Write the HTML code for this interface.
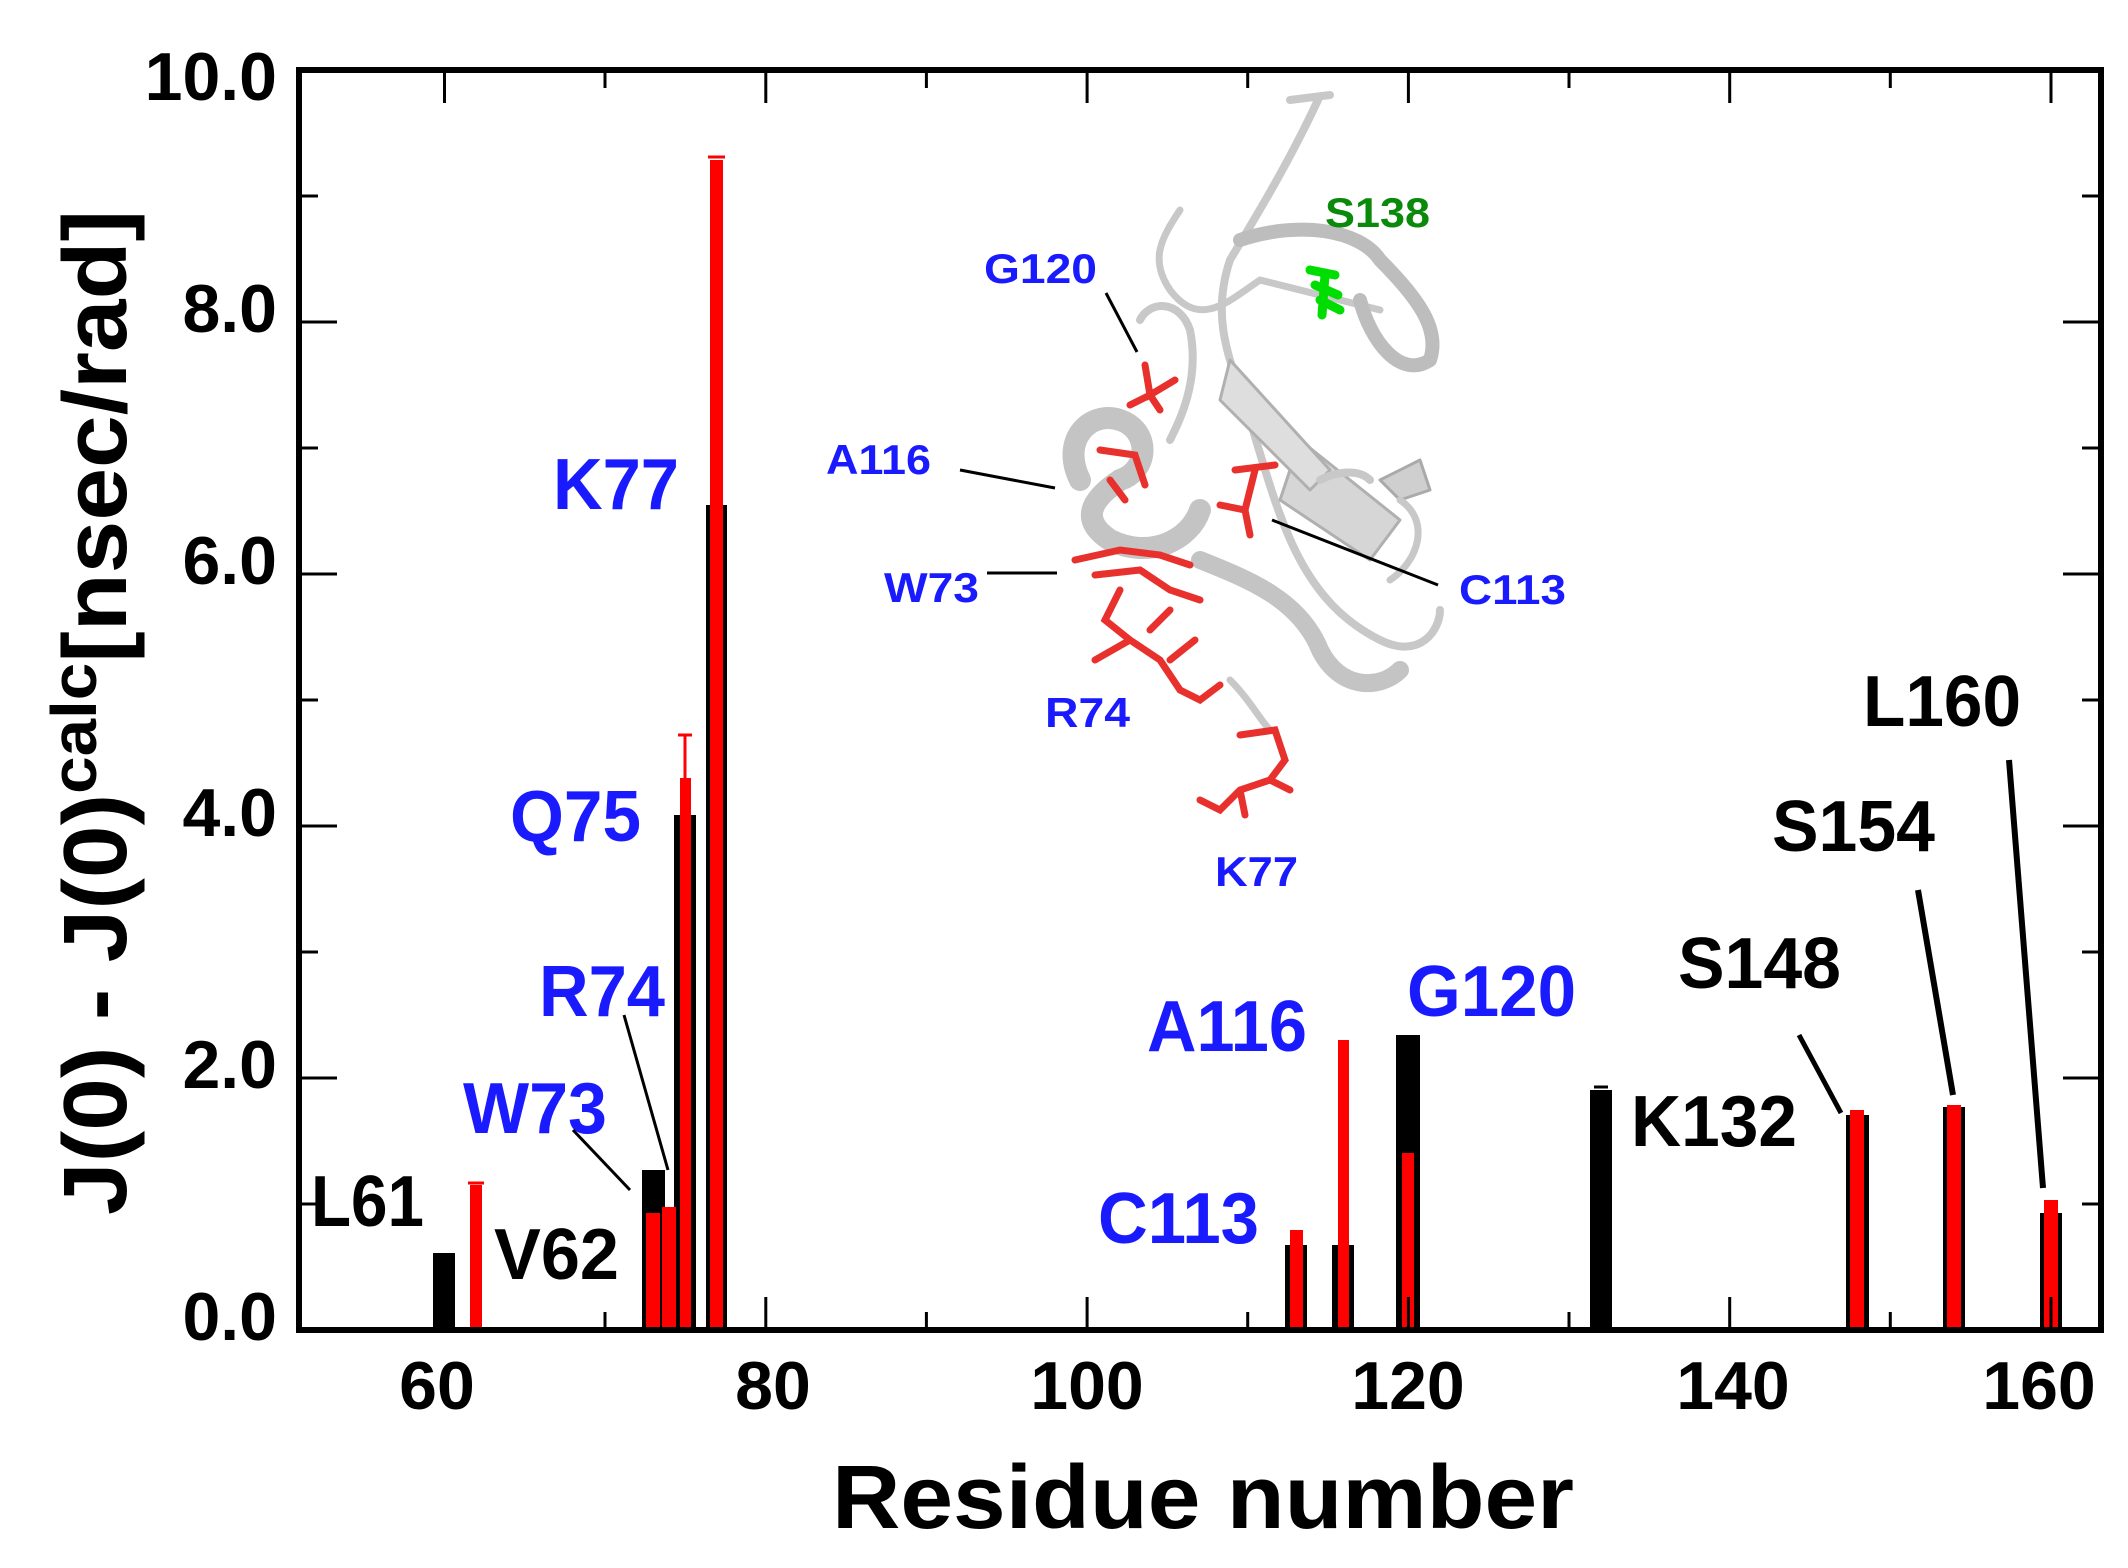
<!DOCTYPE html>
<html><head><meta charset="utf-8"><style>
html,body{margin:0;padding:0;background:#fff}
svg{display:block}
text{font-family:"Liberation Sans",Arial,sans-serif;font-weight:bold}
</style></head><body>
<svg width="2128" height="1568" viewBox="0 0 2128 1568" xmlns="http://www.w3.org/2000/svg">
<!-- protein inset (approximate) -->
<g fill="none" stroke-linecap="round" stroke-linejoin="round">
<path d="M1290 100 L1330 95 M1318 100 C1290 160 1260 210 1230 260 C1210 320 1230 360 1250 420 C1280 520 1300 600 1380 640 C1420 660 1440 630 1440 610" stroke="#c8c8c8" stroke-width="8"/>
<path d="M1180 210 C1160 240 1150 260 1170 290 C1200 330 1230 300 1260 280 C1300 290 1340 300 1380 310" stroke="#c8c8c8" stroke-width="7"/>
<path d="M1240 240 C1300 220 1360 230 1380 260 C1420 300 1440 330 1430 360 C1400 380 1370 340 1360 300" stroke="#bdbdbd" stroke-width="14"/>
<path d="M1300 440 L1400 520 L1370 560 L1280 500 Z" fill="#d6d6d6" stroke="#b0b0b0" stroke-width="3"/>
<path d="M1230 360 L1330 470 L1310 490 L1220 400 Z" fill="#dedede" stroke="#b0b0b0" stroke-width="3"/>
<path d="M1320 480 C1340 470 1360 470 1370 480" stroke="#c8c8c8" stroke-width="8"/>
<path d="M1080 480 C1060 440 1090 410 1120 420 C1150 430 1150 470 1120 480 C1090 500 1080 520 1110 540 C1150 560 1190 540 1200 510" stroke="#c4c4c4" stroke-width="22"/>
<path d="M1140 320 C1150 300 1180 300 1190 330 C1200 380 1180 420 1170 440" stroke="#c8c8c8" stroke-width="8"/>
<path d="M1200 560 C1250 580 1300 600 1320 650 C1340 690 1380 690 1400 670" stroke="#c4c4c4" stroke-width="18"/>
<path d="M1380 480 L1420 460 L1430 490 L1400 500 Z" fill="#cfcfcf" stroke="#aaa" stroke-width="3"/>
<path d="M1400 500 C1430 520 1420 560 1390 580" stroke="#c8c8c8" stroke-width="7"/>
<path d="M1230 680 C1250 700 1260 720 1270 730" stroke="#c8c8c8" stroke-width="7"/>
</g>
<g stroke="#00dd00" stroke-width="9" stroke-linecap="round">
<path d="M1310 270 L1335 275 M1315 285 L1338 295 M1320 300 L1340 310 M1325 275 L1322 315"/>
</g>
<g stroke="#e8302c" stroke-width="7" stroke-linecap="round" fill="none">
<path d="M1145 365 L1150 395 L1175 380 M1150 395 L1130 405 M1150 395 L1160 410"/>
<path d="M1100 450 L1135 455 L1145 485 M1110 480 L1125 500"/>
<path d="M1235 470 L1275 465 M1255 470 L1245 510 L1220 505 M1245 510 L1250 535"/>
<path d="M1075 560 L1120 550 L1160 555 L1190 565 M1095 575 L1140 570 L1170 590 L1200 600"/>
<path d="M1120 590 L1105 620 L1130 640 L1095 660 M1130 640 L1160 660 L1180 690 L1200 700 L1220 685"/>
<path d="M1150 630 L1170 610 M1170 660 L1195 640"/>
<path d="M1240 735 L1275 730 L1285 760 L1270 780 L1240 790 L1220 810 L1200 800 M1270 780 L1290 790 M1240 790 L1245 815"/>
</g>
<!-- inset labels -->
<g font-size="42" fill="#1a1aff">
<text x="984" y="283" textLength="113" lengthAdjust="spacingAndGlyphs">G120</text>
<text x="826" y="474" textLength="105" lengthAdjust="spacingAndGlyphs">A116</text>
<text x="884" y="602" textLength="95" lengthAdjust="spacingAndGlyphs">W73</text>
<text x="1045" y="727" textLength="85" lengthAdjust="spacingAndGlyphs">R74</text>
<text x="1215" y="886" textLength="83" lengthAdjust="spacingAndGlyphs">K77</text>
<text x="1459" y="604" textLength="107" lengthAdjust="spacingAndGlyphs">C113</text>
</g>
<text x="1325" y="227" font-size="42" fill="#0a8a0a" textLength="105" lengthAdjust="spacingAndGlyphs">S138</text>
<g stroke="#000" stroke-width="3">
<line x1="1106" y1="293" x2="1137" y2="352"/>
<line x1="960" y1="470" x2="1055" y2="488"/>
<line x1="987" y1="573" x2="1057" y2="573"/>
<line x1="1272" y1="520" x2="1438" y2="585"/>
</g>
<!-- bars -->
<g fill="#000">
<rect x="433" y="1253" width="22" height="77"/>
<rect x="642" y="1170" width="23" height="160"/>
<rect x="674" y="815" width="22" height="515"/>
<rect x="706" y="505" width="21" height="825"/>
<rect x="1285" y="1245" width="22" height="85"/>
<rect x="1332" y="1245" width="22" height="85"/>
<rect x="1396" y="1035" width="24" height="295"/>
<rect x="1590" y="1090" width="22" height="240"/>
<rect x="1846" y="1115" width="23" height="215"/>
<rect x="1943" y="1107" width="22" height="223"/>
<rect x="2040" y="1213" width="22" height="117"/>
</g>
<g fill="#ff0000">
<rect x="470" y="1185" width="12" height="145"/>
<rect x="646" y="1213" width="14" height="117"/>
<rect x="662" y="1207" width="14" height="123"/>
<rect x="680" y="778" width="11" height="552"/>
<rect x="710" y="160" width="13" height="1170"/>
<rect x="1290" y="1230" width="13" height="100"/>
<rect x="1338" y="1040" width="11" height="290"/>
<rect x="1402" y="1153" width="12" height="177"/>
<rect x="1850" y="1110" width="14" height="220"/>
<rect x="1947" y="1105" width="14" height="225"/>
<rect x="2044" y="1200" width="14" height="130"/>
</g>
<g stroke="#ff0000" stroke-width="3">
<line x1="468" y1="1183" x2="484" y2="1183"/>
<line x1="685" y1="735" x2="685" y2="780"/><line x1="678" y1="735" x2="692" y2="735"/>
<line x1="708" y1="157" x2="725" y2="157"/>
</g>
<line x1="1594" y1="1087" x2="1608" y2="1087" stroke="#000" stroke-width="3"/>
<!-- frame & ticks -->
<rect x="299" y="70" width="1802" height="1260" fill="none" stroke="#000" stroke-width="6"/>
<g stroke="#000" stroke-width="3">
<line x1="299" y1="1078" x2="337" y2="1078"/><line x1="299" y1="826" x2="337" y2="826"/><line x1="299" y1="574" x2="337" y2="574"/><line x1="299" y1="322" x2="337" y2="322"/>
<line x1="299" y1="1204" x2="318" y2="1204"/><line x1="299" y1="952" x2="318" y2="952"/><line x1="299" y1="700" x2="318" y2="700"/><line x1="299" y1="448" x2="318" y2="448"/><line x1="299" y1="196" x2="318" y2="196"/>
<line x1="2101" y1="1078" x2="2063" y2="1078"/><line x1="2101" y1="826" x2="2063" y2="826"/><line x1="2101" y1="574" x2="2063" y2="574"/><line x1="2101" y1="322" x2="2063" y2="322"/>
<line x1="2101" y1="1204" x2="2082" y2="1204"/><line x1="2101" y1="952" x2="2082" y2="952"/><line x1="2101" y1="700" x2="2082" y2="700"/><line x1="2101" y1="448" x2="2082" y2="448"/><line x1="2101" y1="196" x2="2082" y2="196"/>
<line x1="444.5" y1="70" x2="444.5" y2="103"/><line x1="765.8" y1="70" x2="765.8" y2="103"/><line x1="1087.1" y1="70" x2="1087.1" y2="103"/><line x1="1408.4" y1="70" x2="1408.4" y2="103"/><line x1="1729.7" y1="70" x2="1729.7" y2="103"/><line x1="2051" y1="70" x2="2051" y2="103"/>
<line x1="605" y1="70" x2="605" y2="88"/><line x1="926.4" y1="70" x2="926.4" y2="88"/><line x1="1247.7" y1="70" x2="1247.7" y2="88"/><line x1="1569" y1="70" x2="1569" y2="88"/><line x1="1890.3" y1="70" x2="1890.3" y2="88"/>
<line x1="444.5" y1="1330" x2="444.5" y2="1297"/><line x1="765.8" y1="1330" x2="765.8" y2="1297"/><line x1="1087.1" y1="1330" x2="1087.1" y2="1297"/><line x1="1408.4" y1="1330" x2="1408.4" y2="1297"/><line x1="1729.7" y1="1330" x2="1729.7" y2="1297"/><line x1="2051" y1="1330" x2="2051" y2="1297"/>
<line x1="605" y1="1330" x2="605" y2="1312"/><line x1="926.4" y1="1330" x2="926.4" y2="1312"/><line x1="1247.7" y1="1330" x2="1247.7" y2="1312"/><line x1="1569" y1="1330" x2="1569" y2="1312"/><line x1="1890.3" y1="1330" x2="1890.3" y2="1312"/>
</g>
<!-- tick labels -->
<g font-size="68" text-anchor="end" fill="#000">
<text x="277" y="1340">0.0</text><text x="277" y="1088">2.0</text><text x="277" y="836">4.0</text><text x="277" y="584">6.0</text><text x="277" y="332">8.0</text><text x="277" y="100">10.0</text>
</g>
<g font-size="68" text-anchor="middle" fill="#000">
<text x="437" y="1409">60</text><text x="773" y="1409">80</text><text x="1087" y="1409">100</text><text x="1408" y="1409">120</text><text x="1733" y="1409">140</text><text x="2039" y="1409">160</text>
</g>
<text x="832" y="1528" font-size="90" textLength="742" lengthAdjust="spacingAndGlyphs">Residue number</text>
<text transform="translate(126,1215) rotate(-90)" font-size="90" textLength="1005" lengthAdjust="spacingAndGlyphs">J(0) - J(0)<tspan font-size="64" dy="-30">calc</tspan><tspan dy="30">[nsec/rad]</tspan></text>
<!-- data labels -->
<g font-size="72" fill="#1a1aff">
<text x="553" y="509" textLength="126" lengthAdjust="spacingAndGlyphs">K77</text>
<text x="510" y="841" textLength="131" lengthAdjust="spacingAndGlyphs">Q75</text>
<text x="539" y="1016" textLength="126" lengthAdjust="spacingAndGlyphs">R74</text>
<text x="463" y="1133" textLength="144" lengthAdjust="spacingAndGlyphs">W73</text>
<text x="1147" y="1051" textLength="160" lengthAdjust="spacingAndGlyphs">A116</text>
<text x="1407" y="1016" textLength="169" lengthAdjust="spacingAndGlyphs">G120</text>
<text x="1098" y="1243" textLength="161" lengthAdjust="spacingAndGlyphs">C113</text>
</g>
<g font-size="72" fill="#000">
<text x="311" y="1226" textLength="113" lengthAdjust="spacingAndGlyphs">L61</text>
<text x="494" y="1279" textLength="125" lengthAdjust="spacingAndGlyphs">V62</text>
<text x="1631" y="1146" textLength="166" lengthAdjust="spacingAndGlyphs">K132</text>
<text x="1678" y="988" textLength="163" lengthAdjust="spacingAndGlyphs">S148</text>
<text x="1772" y="851" textLength="163" lengthAdjust="spacingAndGlyphs">S154</text>
<text x="1863" y="726" textLength="158" lengthAdjust="spacingAndGlyphs">L160</text>
</g>
<g stroke="#000">
<line x1="624" y1="1015" x2="668" y2="1170" stroke-width="3"/>
<line x1="573" y1="1130" x2="630" y2="1190" stroke-width="3"/>
<line x1="1799" y1="1035" x2="1841" y2="1113" stroke-width="5"/>
<line x1="1918" y1="890" x2="1953" y2="1095" stroke-width="6"/>
<line x1="2009" y1="760" x2="2043" y2="1188" stroke-width="6"/>
</g>
</svg>
</body></html>
